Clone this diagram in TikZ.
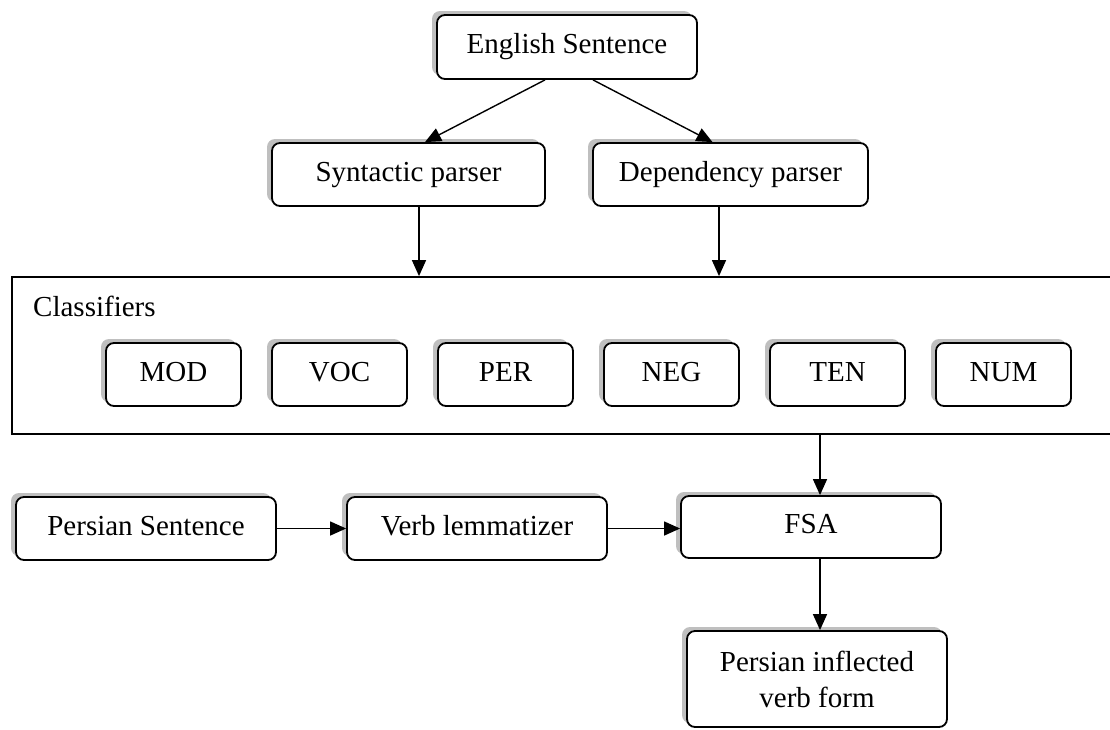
\documentclass[tikz,border=0pt]{standalone}
\usepackage{fontspec}
\setmainfont{Liberation Serif}
\usetikzlibrary{shadows,arrows.meta,calc}
\begin{document}
\begin{tikzpicture}[x=1pt,y=-1pt,
  font=\fontsize{29}{36}\selectfont,
  sbox/.style={draw, rounded corners=8pt, fill=white, line width=1.8pt,
    inner sep=0pt, align=center,
    general shadow={fill=black!25, shadow xshift=-5pt, shadow yshift=4pt}},
  oneline/.style={text height=20pt, text depth=7pt},
  frame/.style={draw, line width=1.8pt, inner sep=0pt},
  arr/.style={line width=1.4pt, -{Triangle[length=16pt,width=14pt]}}]
\useasboundingbox (0,0) rectangle (1110,729);
% main nodes
\node[sbox, oneline, minimum width=260pt, minimum height=64pt] (eng) at (567,47) {English Sentence};
\node[sbox, oneline, minimum width=273pt, minimum height=63pt] (syn) at (408.5,174.5) {Syntactic parser};
\node[sbox, oneline, minimum width=275pt, minimum height=63pt] (dep) at (730.5,174.5) {Dependency parser};
\node[frame, minimum width=1103pt, minimum height=157pt] (cls) at (563.5,355.5) {};
\node[anchor=west, inner sep=0pt] (clslab) at (33,306) {Classifiers};
\node[sbox, oneline, minimum width=135pt, minimum height=63pt] (mod) at (173.5,374.5) {MOD};
\node[sbox, oneline, minimum width=135pt, minimum height=63pt] (voc) at (339.5,374.5) {VOC};
\node[sbox, oneline, minimum width=135pt, minimum height=63pt] (per) at (505.5,374.5) {PER};
\node[sbox, oneline, minimum width=135pt, minimum height=63pt] (neg) at (671.5,374.5) {NEG};
\node[sbox, oneline, minimum width=135pt, minimum height=63pt] (ten) at (837.5,374.5) {TEN};
\node[sbox, oneline, minimum width=135pt, minimum height=63pt] (num) at (1003.5,374.5) {NUM};
\node[sbox, oneline, minimum width=260pt, minimum height=63pt] (ps) at (146,528.5) {Persian Sentence};
\node[sbox, oneline, minimum width=260pt, minimum height=63pt] (vl) at (477,528.5) {Verb lemmatizer};
\node[sbox, oneline, minimum width=260pt, minimum height=62pt] (fsa) at (811,527) {FSA};
\node[sbox, minimum width=260pt, minimum height=96pt] (pif) at (817,679) {Persian inflected\\verb form};
% connectors
\draw[arr] ([xshift=-22pt]eng.south) -- ([xshift=16.5pt]syn.north);
\draw[arr] ([xshift=26pt]eng.south) -- ([xshift=-18pt]dep.north);
\draw[arr] ([xshift=10.5pt]syn.south) -- ([xshift=10.5pt]syn.south |- cls.north);
\draw[arr] ([xshift=-11.5pt]dep.south) -- ([xshift=-11.5pt]dep.south |- cls.north);
\draw[arr] ([xshift=9pt]fsa.north |- cls.south) -- ([xshift=9pt]fsa.north);
\draw[arr] ([xshift=9pt]fsa.south) -- ([xshift=9pt]fsa.south |- pif.north);
\draw[arr] (ps.east) -- (vl.west);
\draw[arr] (vl.east) -- (vl.east -| fsa.west);
\end{tikzpicture}
\end{document}
